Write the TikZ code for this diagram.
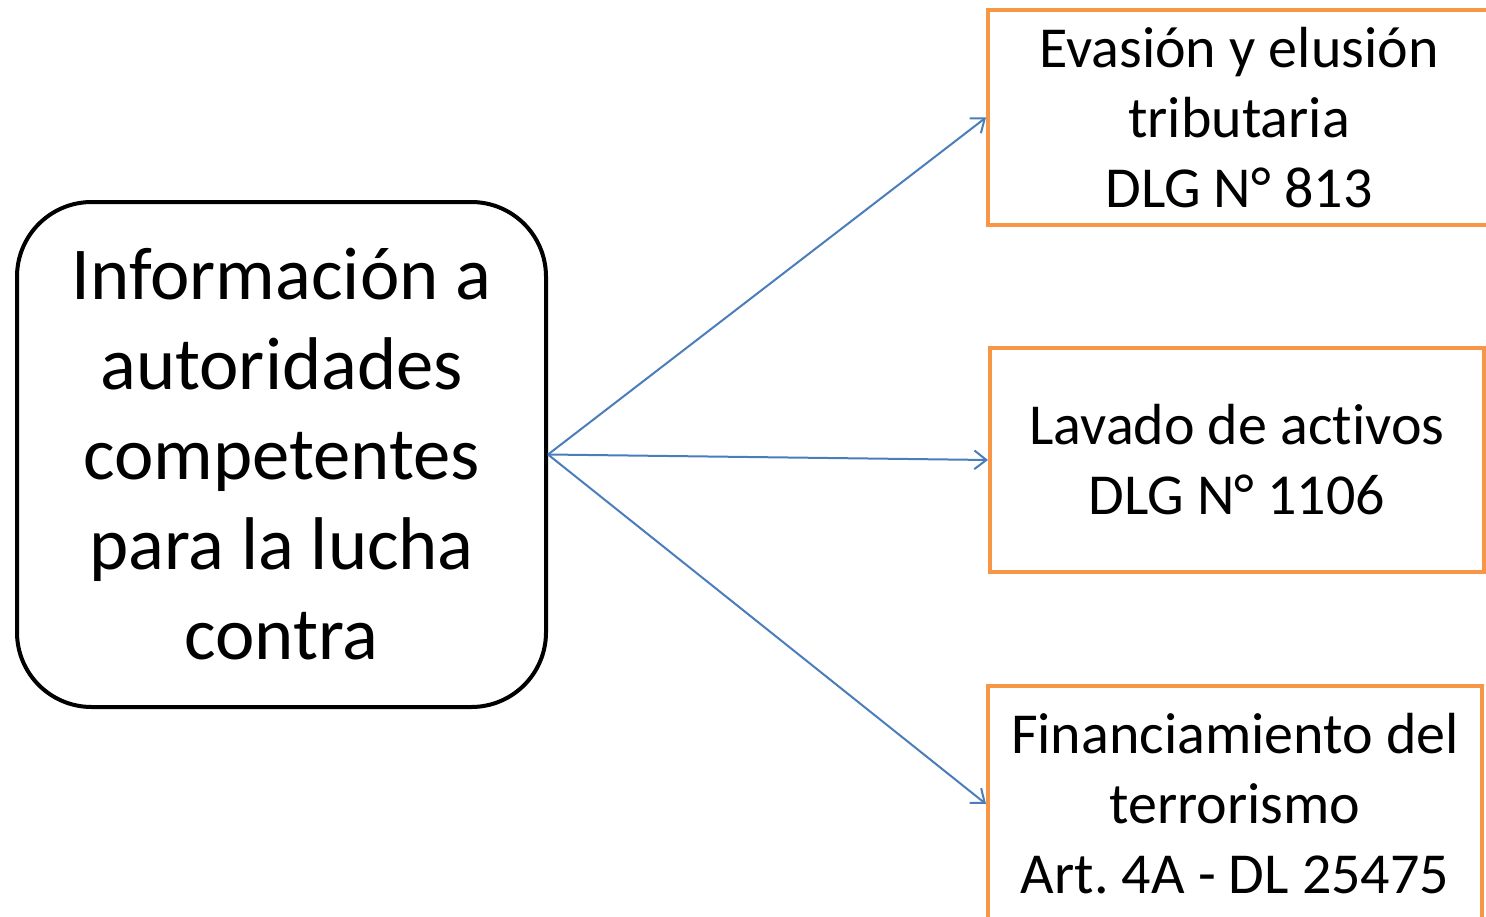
\documentclass[tikz,border=0pt]{standalone}
\usepackage{fontspec}
\setmainfont[Ligatures=NoCommon]{Carlito}
\frenchspacing
\usetikzlibrary{arrows.meta}
\definecolor{boxorange}{HTML}{F79646}
\definecolor{arrowblue}{HTML}{4A7EBB}
\begin{document}
\begin{tikzpicture}[x=0.75pt,y=-0.75pt,
  mainbox/.style={draw=black,line width=3pt,rounded corners=56pt,inner sep=0pt,
    minimum width=529*0.75pt,minimum height=505*0.75pt,align=center,
    font=\fontsize{56}{67.5}\selectfont},
  sidebox/.style={draw=boxorange,line width=3pt,inner sep=0pt,align=center,
    font=\fontsize{43.5}{52.5}\selectfont},
  arr/.style={draw=arrowblue,line width=1.5pt,-{Straight Barb[length=9pt,width=14pt]}}]
\useasboundingbox (0,0) rectangle (1486,917);
\clip (0,0) rectangle (1486,917);
\node[mainbox] (left) at (281.5,454.5) {Información a\\autoridades\\competentes\\para la lucha\\contra};
\node[sidebox,minimum width=502*0.75pt,minimum height=215*0.75pt] (top) at (1239,117.5) {Evasión y elusión\\tributaria\\DLG N° 813};
\node[sidebox,minimum width=494*0.75pt,minimum height=224*0.75pt] (mid) at (1237,460) {Lavado de activos\\DLG N° 1106};
\node[sidebox,minimum width=494*0.75pt,minimum height=236*0.75pt] (bot) at (1235,804) {Financiamiento del\\terrorismo\\Art. 4A - DL 25475};
\draw[arr] (left.east) -- (top.west);
\draw[arr] (left.east) -- (mid.west);
\draw[arr] (left.east) -- (bot.west);
\end{tikzpicture}
\end{document}
